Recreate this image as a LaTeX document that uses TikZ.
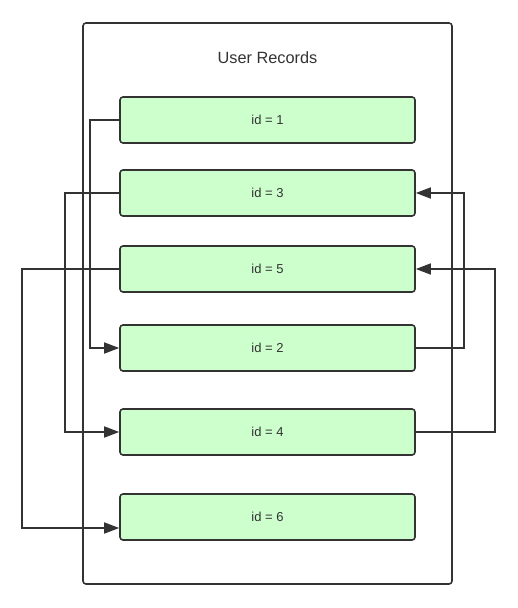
\documentclass[tikz,border=0pt]{standalone}
\usepackage{fontspec}
\setmainfont{Liberation Sans}
\usetikzlibrary{arrows.meta}
\definecolor{ln}{HTML}{333333}
\definecolor{gfill}{HTML}{CCFFCC}
\tikzset{
  rec/.style={draw=ln, line width=1.6pt, fill=gfill, rounded corners=3pt,
    minimum width=295pt, minimum height=46pt, inner sep=0pt,
    font=\fontsize{13}{15}\selectfont, text=ln},
  container/.style={draw=ln, line width=1.6pt, rounded corners=3pt,
    minimum width=369pt, minimum height=561pt, inner sep=0pt},
  conn/.style={draw=ln, line width=1.6pt, -{Triangle[length=15pt,width=11pt]}}
}
\begin{document}
\begin{tikzpicture}[x=1pt,y=-1pt]
\useasboundingbox (0,0) rectangle (517,608);
\node[container] (box) at (267.5,303.5) {};
\node[font=\fontsize{16.3}{19}\selectfont, text=ln] (title) at (267.5,58) {User Records};
\node[rec] (r1) at (267.5,120) {id = 1};
\node[rec] (r3) at (267.5,193) {id = 3};
\node[rec] (r5) at (267.5,269) {id = 5};
\node[rec] (r2) at (267.5,348) {id = 2};
\node[rec] (r4) at (267.5,432) {id = 4};
\node[rec] (r6) at (267.5,517) {id = 6};
\coordinate (r6in) at ([yshift=-11pt]r6.west);
\draw[conn] (r1.west) -- ++(-29,0) |- (r2.west);
\draw[conn] (r3.west) -- ++(-54,0) |- (r4.west);
\draw[conn] (r5.west) -- ++(-97,0) |- (r6in);
\draw[conn] (r2.east) -- ++(48,0) |- (r3.east);
\draw[conn] (r4.east) -- ++(79,0) |- (r5.east);
\end{tikzpicture}
\end{document}
